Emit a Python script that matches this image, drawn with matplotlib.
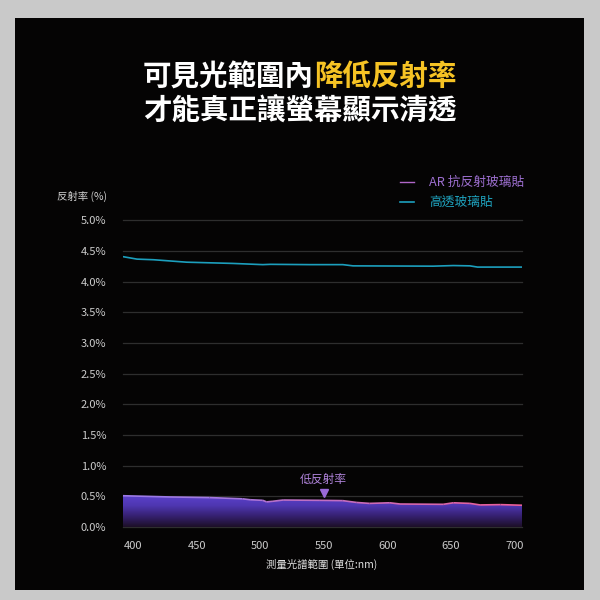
import matplotlib
matplotlib.use('Agg')
import matplotlib.pyplot as plt
import numpy as np
from matplotlib.patches import Rectangle
from matplotlib.collections import LineCollection
from matplotlib.colors import LinearSegmentedColormap, to_rgb

plt.rcParams['font.family'] = ['Noto Sans CJK TC', 'DejaVu Sans']

# wavelength (nm) / reflectance (%)
clear_nm = [392, 403, 416, 429, 442, 478, 502, 508, 539, 565, 573, 636, 652, 665, 671, 706]
clear_pct = [4.41, 4.37, 4.36, 4.34, 4.32, 4.30, 4.28, 4.285, 4.28, 4.28, 4.26, 4.255, 4.265, 4.26, 4.24, 4.24]

ar_nm = [392, 429, 460, 486, 492, 502, 505, 510, 518, 547, 565, 576, 586, 602, 610, 644, 652, 665, 673, 689, 706]
ar_pct = [0.51, 0.49, 0.48, 0.46, 0.445, 0.435, 0.41, 0.42, 0.44, 0.435, 0.43, 0.40, 0.385, 0.395, 0.375,
          0.37, 0.395, 0.385, 0.36, 0.365, 0.355]

yticks = [0, 0.5, 1.0, 1.5, 2.0, 2.5, 3.0, 3.5, 4.0, 4.5, 5.0]
xticks = [400, 450, 500, 550, 600, 650, 700]

fig = plt.figure(figsize=(6, 6), dpi=100, facecolor='#c9c9c9')
fig.patches.append(Rectangle((15/600, 10/600), 569/600, 572/600, transform=fig.transFigure,
                             facecolor='#050404', edgecolor='none', zorder=-5))

# title
fig.text(314/600, 1-77/600, '可見光範圍內', color='white', fontsize=20.5, fontweight='bold', ha='right', va='center')
fig.text(314/600, 1-77/600, '降低反射率', color='#f6c324', fontsize=20.5, fontweight='bold', ha='left', va='center')
fig.text(0.5, 1-110/600, '才能真正讓螢幕顯示清透', color='white', fontsize=20.5, fontweight='bold', ha='center', va='center')

ax = fig.add_axes([123/600, 1-527/600, 399/600, 306.5/600])
ax.set_facecolor('none')
ax.set_xlim(392, 706)
ax.set_ylim(0, 5)
for s in ax.spines.values():
    s.set_visible(False)
for t in yticks:
    ax.axhline(t, color='#2e2e2e', lw=0.9, zorder=1, clip_on=False)

ax.set_yticks(yticks)
ax.set_yticklabels(['%.1f%%' % t for t in yticks])
ax.set_xticks(xticks)
ax.tick_params(length=0, colors='#cccccc', labelsize=8)
ax.tick_params(axis='y', pad=12)
ax.tick_params(axis='x', pad=10)

# gradient fill under AR curve
grad = LinearSegmentedColormap.from_list('g', ['#1c0f26', '#35206e', '#4e36b0', '#5c42cc'])
img = ax.imshow(np.linspace(0, 1, 256).reshape(-1, 1), aspect='auto', cmap=grad,
                extent=[392, 706, 0, max(ar_pct)], origin='lower', zorder=2)
poly = ax.fill_between(ar_nm, 0, ar_pct, color='none')
img.set_clip_path(poly.get_paths()[0], ax.transData)

# AR line, purple -> pink
pts = np.array([ar_nm, ar_pct]).T.reshape(-1, 1, 2)
segs = np.concatenate([pts[:-1], pts[1:]], axis=1)
c1, c2 = np.array(to_rgb('#9c7ae6')), np.array(to_rgb('#ea5f98'))
fr = np.linspace(0, 1, len(segs))
lc = LineCollection(segs, colors=[c1 + (c2 - c1) * f for f in fr], lw=1.2, zorder=3)
ax.add_collection(lc)

ax.plot(clear_nm, clear_pct, color='#1c9fbd', lw=1.2, zorder=3)

# annotation
ax.text(550, 0.78, '低反射率', color='#b184dc', fontsize=8.5, ha='center', va='center')
ax.plot([550], [0.56], marker='v', color='#9a6ad8', ms=6, zorder=4)

# legend
fig.lines.append(plt.Line2D([400/600, 414/600], [1-182/600, 1-182/600], color='#b066c8', lw=1, transform=fig.transFigure))
fig.lines.append(plt.Line2D([400/600, 414/600], [1-202/600, 1-202/600], color='#1c9fbd', lw=1.2, transform=fig.transFigure))
fig.text(429/600, 1-182/600, 'AR 抗反射玻璃貼', color='#9d6fd0', fontsize=9.2, ha='left', va='center')
fig.text(429/600, 1-202/600, '高透玻璃貼', color='#1fa3bf', fontsize=9.2, ha='left', va='center')

fig.text(57/600, 1-196/600, '反射率 (%)', color='#d0d0d0', fontsize=7.5, ha='left', va='center')
fig.text(322/600, 1-564/600, '測量光譜範圍 (單位:nm)', color='#e0e0e0', fontsize=7.5, ha='center', va='center')

fig.savefig('out.png', dpi=100, facecolor=fig.get_facecolor())
